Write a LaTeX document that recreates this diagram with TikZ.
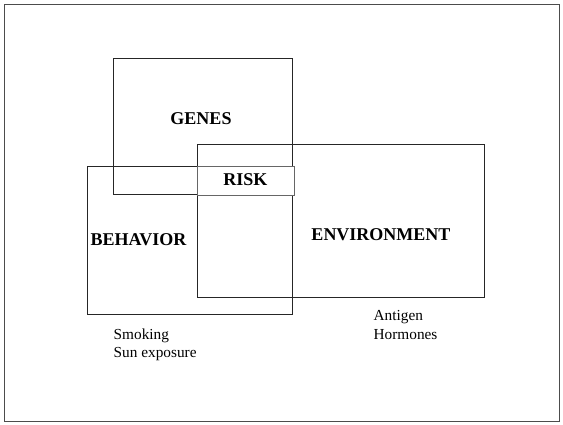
\documentclass[tikz,border=0pt]{standalone}
\usepackage{fontspec}
\setmainfont{Liberation Serif}
\begin{document}
\begin{tikzpicture}[x=1pt,y=-1pt,
  boxstyle/.style={draw=black!85,line width=0.8pt,inner sep=0pt,outer sep=0pt,anchor=north west},
  biglabel/.style={font=\fontsize{18}{20}\selectfont\bfseries,inner sep=0pt,anchor=base},
  smalllabel/.style={font=\fontsize{15.3}{18}\selectfont,inner sep=0pt,anchor=base west}]
\useasboundingbox (0,0) rectangle (563,424);
\draw[black!70,line width=0.8pt] (4,4) rectangle (559,421);
\node[boxstyle,minimum width=179pt,minimum height=136pt] (genes) at (113,58) {};
\node[boxstyle,minimum width=205pt,minimum height=148pt] (behavior) at (87,166) {};
\node[boxstyle,minimum width=287pt,minimum height=153pt] (env) at (197,144) {};
\node[boxstyle,draw=black!60,fill=white,minimum width=97pt,minimum height=29pt] (risk) at (197,166) {};
\node[biglabel] (genestext) at (201,124) {GENES};
\node[biglabel] (risktext) at (245.5,185.5) {RISK};
\node[biglabel] (behaviortext) at (138.5,245) {BEHAVIOR};
\node[biglabel] (envtext) at (381,240.5) {ENVIRONMENT};
\node[smalllabel] (smoking) at (113.5,339) {Smoking};
\node[smalllabel] (sun) at (113.5,357) {Sun exposure};
\node[smalllabel] (antigen) at (373.5,320) {Antigen};
\node[smalllabel] (hormones) at (373.5,339) {Hormones};
\end{tikzpicture}
\end{document}
